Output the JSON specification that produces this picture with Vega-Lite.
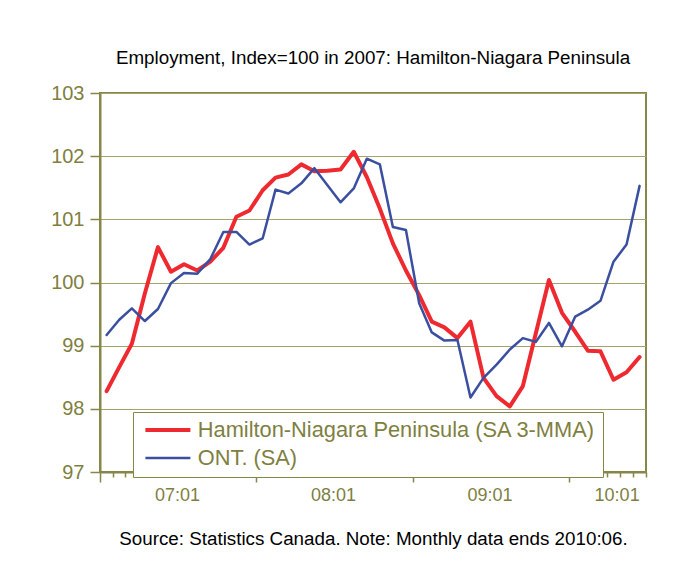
{
  "$schema": "https://vega.github.io/schema/vega-lite/v6.json",
  "width": 546,
  "height": 379,
  "autosize": {"type": "none"},
  "padding": {"left": 100, "top": 93, "right": 44, "bottom": 104},
  "background": "white",
  "title": {
    "text": "Employment, Index=100 in 2007: Hamilton-Niagara Peninsula",
    "font": "Liberation Sans",
    "fontSize": 18.8,
    "fontWeight": "normal",
    "color": "#000000",
    "anchor": "middle",
    "offset": 15
  },
  "data": {
    "values": [
      {"month": "2007/01/01", "hamilton": 98.28, "ontario": 99.17},
      {"month": "2007/02/01", "hamilton": 98.66, "ontario": 99.41},
      {"month": "2007/03/01", "hamilton": 99.03, "ontario": 99.59},
      {"month": "2007/04/01", "hamilton": 99.83, "ontario": 99.39},
      {"month": "2007/05/01", "hamilton": 100.56, "ontario": 99.58},
      {"month": "2007/06/01", "hamilton": 100.17, "ontario": 99.99},
      {"month": "2007/07/01", "hamilton": 100.29, "ontario": 100.15},
      {"month": "2007/08/01", "hamilton": 100.19, "ontario": 100.14},
      {"month": "2007/09/01", "hamilton": 100.33, "ontario": 100.37},
      {"month": "2007/10/01", "hamilton": 100.55, "ontario": 100.80},
      {"month": "2007/11/01", "hamilton": 101.04, "ontario": 100.80},
      {"month": "2007/12/01", "hamilton": 101.14, "ontario": 100.60},
      {"month": "2008/01/01", "hamilton": 101.46, "ontario": 100.70},
      {"month": "2008/02/01", "hamilton": 101.66, "ontario": 101.47},
      {"month": "2008/03/01", "hamilton": 101.71, "ontario": 101.41},
      {"month": "2008/04/01", "hamilton": 101.87, "ontario": 101.57},
      {"month": "2008/05/01", "hamilton": 101.76, "ontario": 101.81},
      {"month": "2008/06/01", "hamilton": 101.77, "ontario": 101.54},
      {"month": "2008/07/01", "hamilton": 101.79, "ontario": 101.27},
      {"month": "2008/08/01", "hamilton": 102.07, "ontario": 101.49},
      {"month": "2008/09/01", "hamilton": 101.67, "ontario": 101.96},
      {"month": "2008/10/01", "hamilton": 101.17, "ontario": 101.87},
      {"month": "2008/11/01", "hamilton": 100.62, "ontario": 100.88},
      {"month": "2008/12/01", "hamilton": 100.19, "ontario": 100.83},
      {"month": "2009/01/01", "hamilton": 99.80, "ontario": 99.67},
      {"month": "2009/02/01", "hamilton": 99.38, "ontario": 99.21},
      {"month": "2009/03/01", "hamilton": 99.29, "ontario": 99.08},
      {"month": "2009/04/01", "hamilton": 99.12, "ontario": 99.09},
      {"month": "2009/05/01", "hamilton": 99.38, "ontario": 98.18},
      {"month": "2009/06/01", "hamilton": 98.49, "ontario": 98.49},
      {"month": "2009/07/01", "hamilton": 98.20, "ontario": 98.70},
      {"month": "2009/08/01", "hamilton": 98.04, "ontario": 98.94},
      {"month": "2009/09/01", "hamilton": 98.36, "ontario": 99.12},
      {"month": "2009/10/01", "hamilton": 99.20, "ontario": 99.06},
      {"month": "2009/11/01", "hamilton": 100.04, "ontario": 99.36},
      {"month": "2009/12/01", "hamilton": 99.52, "ontario": 98.99},
      {"month": "2010/01/01", "hamilton": 99.22, "ontario": 99.46},
      {"month": "2010/02/01", "hamilton": 98.92, "ontario": 99.57},
      {"month": "2010/03/01", "hamilton": 98.91, "ontario": 99.71},
      {"month": "2010/04/01", "hamilton": 98.46, "ontario": 100.33},
      {"month": "2010/05/01", "hamilton": 98.58, "ontario": 100.60},
      {"month": "2010/06/01", "hamilton": 98.82, "ontario": 101.53}
    ]
  },
  "transform": [{"fold": ["hamilton", "ontario"], "as": ["series", "value"]}],
  "mark": {"type": "line", "strokeJoin": "round", "strokeCap": "round"},
  "encoding": {
    "x": {
      "field": "month",
      "type": "temporal",
      "timeUnit": "yearmonth",
      "bandPosition": 0.5,
      "scale": {"domain": [{"year": 2007, "month": 1, "date": 1}, {"year": 2010, "month": 7, "date": 1}]},
      "axis": {
        "title": "Source: Statistics Canada. Note: Monthly data ends 2010:06.",
        "titleFont": "Liberation Sans",
        "titleFontSize": 18.8,
        "titleFontWeight": "normal",
        "titleColor": "#000000",
        "titlePadding": 25,
        "tickCount": {"interval": "month", "step": 1},
        "tickSize": {"condition": {"test": "month(datum.value) === 0", "value": 10}, "value": 5},
        "tickColor": "#87874A",
        "tickWidth": 1.5,
        "domainColor": "#87874A",
        "domainWidth": 2,
        "grid": false,
        "labelExpr": "month(datum.value) === 0 ? timeFormat(datum.value, '%y:%m') : ''",
        "labelOffset": {"condition": {"test": "year(datum.value) === 2010", "value": 48}, "value": 77},
        "labelFlush": false,
        "labelOverlap": false,
        "labelBound": false,
        "labelFont": "Liberation Sans",
        "labelFontSize": 18,
        "labelColor": "#7F7F3F",
        "labelPadding": 4
      }
    },
    "y": {
      "field": "value",
      "type": "quantitative",
      "scale": {"domain": [97, 103], "nice": false, "zero": false},
      "axis": {
        "title": null,
        "values": [97, 98, 99, 100, 101, 102, 103],
        "tickSize": 10,
        "tickColor": "#87874A",
        "tickWidth": 1.5,
        "domainColor": "#87874A",
        "domainWidth": 2,
        "grid": true,
        "gridColor": "#A3A36A",
        "gridWidth": 1.2,
        "labelFont": "Liberation Sans",
        "labelFontSize": 20,
        "labelColor": "#7F7F3F",
        "labelPadding": 6
      }
    },
    "color": {
      "field": "series",
      "type": "nominal",
      "scale": {"domain": ["hamilton", "ontario"], "range": ["#EE2A30", "#3A4FA0"]},
      "legend": {
        "title": null,
        "orient": "none",
        "legendX": 33,
        "legendY": 319,
        "direction": "vertical",
        "fillColor": "#FFFFFF",
        "strokeColor": "#87874A",
        "padding": 7,
        "rowPadding": 5,
        "symbolType": "M-3,0H3",
        "symbolSize": 225,
        "symbolOffset": 17,
        "labelOffset": 19,
        "labelFont": "Liberation Sans",
        "labelFontSize": 21.8,
        "labelColor": "#7F7F3F",
        "labelLimit": 500,
        "labelExpr": "datum.label === 'hamilton' ? 'Hamilton-Niagara Peninsula (SA 3-MMA)' : 'ONT. (SA)'"
      }
    },
    "strokeWidth": {
      "field": "series",
      "type": "nominal",
      "scale": {"domain": ["hamilton", "ontario"], "range": [4, 2.5]}
    }
  },
  "config": {
    "view": {"stroke": "#87874A", "strokeWidth": 2}
  }
}
